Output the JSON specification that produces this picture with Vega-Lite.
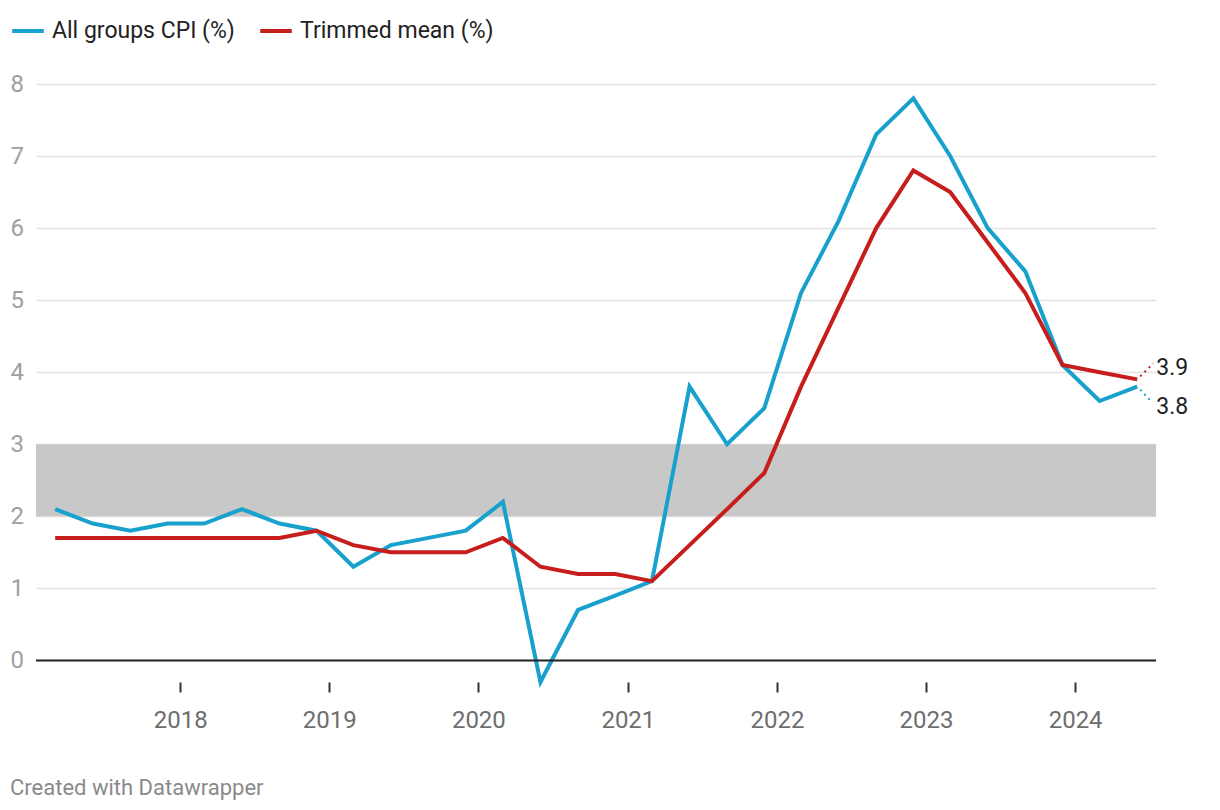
{
  "$schema": "https://vega.github.io/schema/vega-lite/v6.json",
  "width": 1120,
  "height": 598,
  "autosize": {"type": "none"},
  "padding": {"left": 36, "top": 84, "right": 64, "bottom": 128},
  "background": "white",
  "title": {
    "text": "Created with Datawrapper",
    "orient": "bottom",
    "anchor": "start",
    "frame": "group",
    "dx": -26,
    "offset": 46,
    "fontSize": 22,
    "fontWeight": "normal",
    "font": "Roboto",
    "color": "#8a8a8a"
  },
  "config": {
    "view": {"stroke": null},
    "font": "Roboto",
    "axis": {"labelFont": "Roboto"},
    "legend": {"labelFont": "Roboto"}
  },
  "datasets": {
    "cpi": [
      {"date": "2017-03-01", "All groups CPI (%)": 2.1, "Trimmed mean (%)": 1.7},
      {"date": "2017-06-01", "All groups CPI (%)": 1.9, "Trimmed mean (%)": 1.7},
      {"date": "2017-09-01", "All groups CPI (%)": 1.8, "Trimmed mean (%)": 1.7},
      {"date": "2017-12-01", "All groups CPI (%)": 1.9, "Trimmed mean (%)": 1.7},
      {"date": "2018-03-01", "All groups CPI (%)": 1.9, "Trimmed mean (%)": 1.7},
      {"date": "2018-06-01", "All groups CPI (%)": 2.1, "Trimmed mean (%)": 1.7},
      {"date": "2018-09-01", "All groups CPI (%)": 1.9, "Trimmed mean (%)": 1.7},
      {"date": "2018-12-01", "All groups CPI (%)": 1.8, "Trimmed mean (%)": 1.8},
      {"date": "2019-03-01", "All groups CPI (%)": 1.3, "Trimmed mean (%)": 1.6},
      {"date": "2019-06-01", "All groups CPI (%)": 1.6, "Trimmed mean (%)": 1.5},
      {"date": "2019-09-01", "All groups CPI (%)": 1.7, "Trimmed mean (%)": 1.5},
      {"date": "2019-12-01", "All groups CPI (%)": 1.8, "Trimmed mean (%)": 1.5},
      {"date": "2020-03-01", "All groups CPI (%)": 2.2, "Trimmed mean (%)": 1.7},
      {"date": "2020-06-01", "All groups CPI (%)": -0.3, "Trimmed mean (%)": 1.3},
      {"date": "2020-09-01", "All groups CPI (%)": 0.7, "Trimmed mean (%)": 1.2},
      {"date": "2020-12-01", "All groups CPI (%)": 0.9, "Trimmed mean (%)": 1.2},
      {"date": "2021-03-01", "All groups CPI (%)": 1.1, "Trimmed mean (%)": 1.1},
      {"date": "2021-06-01", "All groups CPI (%)": 3.8, "Trimmed mean (%)": 1.6},
      {"date": "2021-09-01", "All groups CPI (%)": 3.0, "Trimmed mean (%)": 2.1},
      {"date": "2021-12-01", "All groups CPI (%)": 3.5, "Trimmed mean (%)": 2.6},
      {"date": "2022-03-01", "All groups CPI (%)": 5.1, "Trimmed mean (%)": 3.8},
      {"date": "2022-06-01", "All groups CPI (%)": 6.1, "Trimmed mean (%)": 4.9},
      {"date": "2022-09-01", "All groups CPI (%)": 7.3, "Trimmed mean (%)": 6.0},
      {"date": "2022-12-01", "All groups CPI (%)": 7.8, "Trimmed mean (%)": 6.8},
      {"date": "2023-03-01", "All groups CPI (%)": 7.0, "Trimmed mean (%)": 6.5},
      {"date": "2023-06-01", "All groups CPI (%)": 6.0, "Trimmed mean (%)": 5.8},
      {"date": "2023-09-01", "All groups CPI (%)": 5.4, "Trimmed mean (%)": 5.1},
      {"date": "2023-12-01", "All groups CPI (%)": 4.1, "Trimmed mean (%)": 4.1},
      {"date": "2024-03-01", "All groups CPI (%)": 3.6, "Trimmed mean (%)": 4.0},
      {"date": "2024-06-01", "All groups CPI (%)": 3.8, "Trimmed mean (%)": 3.9}
    ],
    "band": [{"low": 2, "high": 3}],
    "zero": [{"y": 0}]
  },
  "layer": [
    {
      "data": {"name": "band"},
      "mark": {"type": "rect", "color": "#c8c8c8"},
      "encoding": {
        "y": {"field": "low", "type": "quantitative", "scale": {"domain": [-0.3, 8], "nice": false, "zero": false}},
        "y2": {"field": "high"}
      }
    },
    {
      "data": {"name": "cpi"},
      "transform": [{"fold": ["All groups CPI (%)", "Trimmed mean (%)"], "as": ["series", "value"]}],
      "layer": [
        {
          "mark": {"type": "line", "strokeWidth": 4, "strokeJoin": "miter"},
          "encoding": {
            "x": {
              "field": "date", "type": "temporal",
              "scale": {"domain": [{"year": 2017, "month": 1, "date": 13}, {"year": 2024, "month": 7, "date": 17}]},
              "axis": {
                "title": null,
                "format": "%Y",
                "values": [
                  {"year": 2018, "month": 1, "date": 1},
                  {"year": 2019, "month": 1, "date": 1},
                  {"year": 2020, "month": 1, "date": 1},
                  {"year": 2021, "month": 1, "date": 1},
                  {"year": 2022, "month": 1, "date": 1},
                  {"year": 2023, "month": 1, "date": 1},
                  {"year": 2024, "month": 1, "date": 1}
                ],
                "domain": false,
                "grid": false,
                "ticks": true,
                "tickSize": 10,
                "tickWidth": 2,
                "tickColor": "#333",
                "labelFontSize": 24,
                "labelColor": "#6e6e6e",
                "labelPadding": 16
              }
            },
            "y": {
              "field": "value", "type": "quantitative",
              "scale": {"domain": [-0.3, 8], "nice": false, "zero": false},
              "axis": {
                "title": null,
                "values": [0, 1, 2, 3, 4, 5, 6, 7, 8],
                "format": "d",
                "domain": false,
                "ticks": false,
                "grid": true,
                "gridColor": "#e3e3e3",
                "gridWidth": 1.5,
                "labelAlign": "left",
                "labelBaseline": "middle",
                "labelPadding": 26,
                "labelFontSize": 24,
                "labelColor": "#a0a0a0"
              }
            },
            "color": {
              "field": "series", "type": "nominal",
              "scale": {"domain": ["All groups CPI (%)", "Trimmed mean (%)"], "range": ["#18a1cd", "#c71e1d"]},
              "legend": {
                "title": null,
                "orient": "none",
                "direction": "horizontal",
                "legendX": -26,
                "legendY": -71,
                "symbolType": "stroke",
                "symbolStrokeWidth": 4,
                "symbolSize": 1000,
                "labelFontSize": 23,
                "labelColor": "#222",
                "labelOffset": 6,
                "columnPadding": 17,
                "labelLimit": 400
              }
            }
          }
        },
        {
          "transform": [{"filter": "datum.series == 'Trimmed mean (%)' && year(datum.date) == 2024 && month(datum.date) == 5"}],
          "mark": {"type": "rule", "strokeWidth": 2, "strokeDash": [2, 4], "xOffset": 3, "yOffset": -3, "x2Offset": 16, "y2Offset": -16, "color": "#c71e1d"},
          "encoding": {
            "x": {"field": "date", "type": "temporal"},
            "x2": {"field": "date"},
            "y": {"field": "value", "type": "quantitative"},
            "y2": {"field": "value"}
          }
        },
        {
          "transform": [{"filter": "datum.series == 'All groups CPI (%)' && year(datum.date) == 2024 && month(datum.date) == 5"}],
          "mark": {"type": "rule", "strokeWidth": 2, "strokeDash": [2, 4], "xOffset": 3, "yOffset": 3, "x2Offset": 14, "y2Offset": 15, "color": "#18a1cd"},
          "encoding": {
            "x": {"field": "date", "type": "temporal"},
            "x2": {"field": "date"},
            "y": {"field": "value", "type": "quantitative"},
            "y2": {"field": "value"}
          }
        },
        {
          "transform": [{"filter": "datum.series == 'Trimmed mean (%)' && year(datum.date) == 2024 && month(datum.date) == 5"}],
          "mark": {"type": "text", "align": "left", "baseline": "middle", "dx": 19, "dy": -11, "fontSize": 23, "color": "#222"},
          "encoding": {
            "x": {"field": "date", "type": "temporal"},
            "y": {"field": "value", "type": "quantitative"},
            "text": {"field": "value", "type": "quantitative", "format": ".1f"}
          }
        },
        {
          "transform": [{"filter": "datum.series == 'All groups CPI (%)' && year(datum.date) == 2024 && month(datum.date) == 5"}],
          "mark": {"type": "text", "align": "left", "baseline": "middle", "dx": 19, "dy": 20, "fontSize": 23, "color": "#222"},
          "encoding": {
            "x": {"field": "date", "type": "temporal"},
            "y": {"field": "value", "type": "quantitative"},
            "text": {"field": "value", "type": "quantitative", "format": ".1f"}
          }
        }
      ]
    },
    {
      "data": {"name": "zero"},
      "mark": {"type": "rule", "color": "#222", "strokeWidth": 2},
      "encoding": {
        "y": {"field": "y", "type": "quantitative"}
      }
    }
  ]
}
